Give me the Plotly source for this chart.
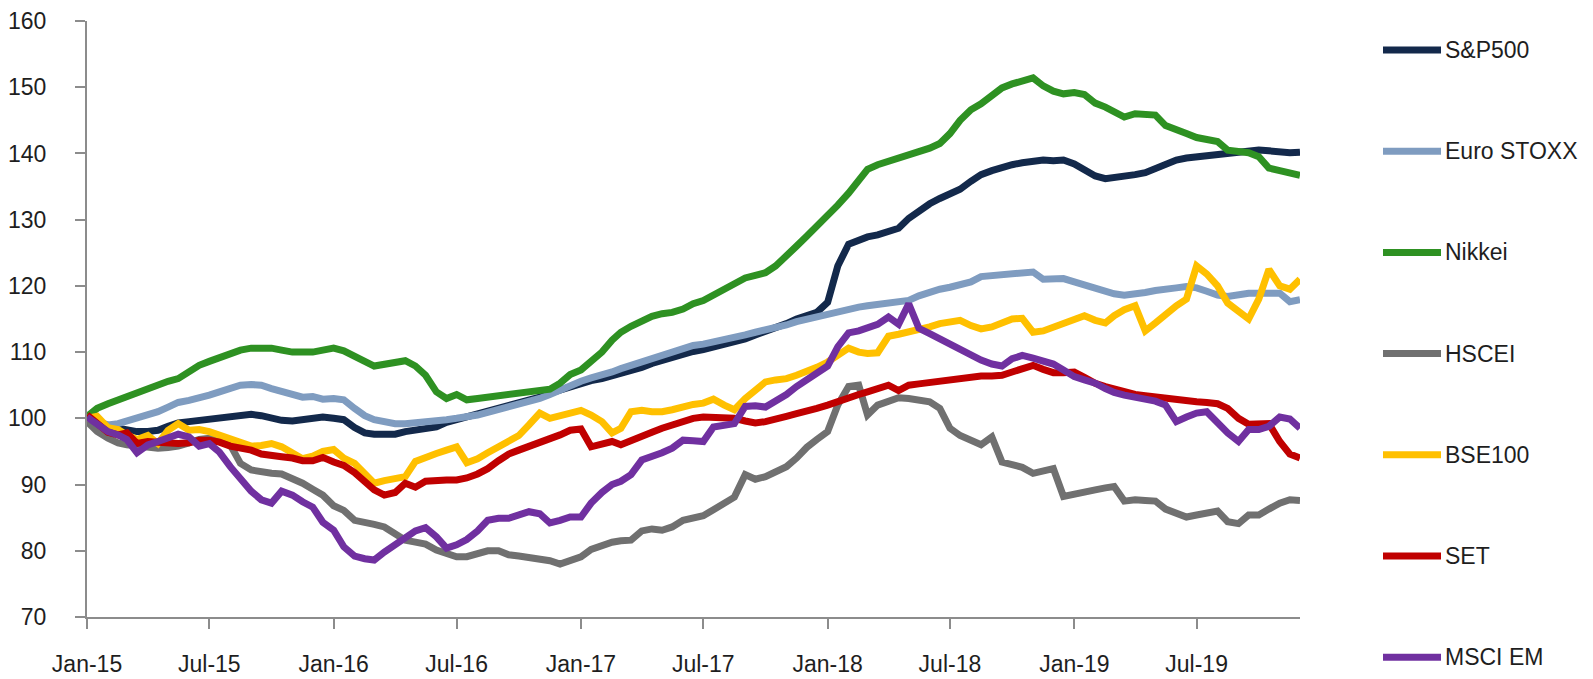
import plotly.graph_objects as go

# ---- semi-monthly observation dates (1st and 16th), Jan-2015 .. Dec-2019 ----
dates = []
for yr in range(2015, 2020):
    for mo in range(1, 13):
        dates.append(f"{yr}-{mo:02d}-01")
        if yr == 2019 and mo == 12:
            break
        dates.append(f"{yr}-{mo:02d}-16")

series_names = ["S&P500", "Euro STOXX", "Nikkei", "HSCEI", "BSE100", "SET", "MSCI EM"]
series_colors = ["#13294B", "#7F9CC0", "#2E9122", "#707070", "#FFC000", "#C00000", "#7030A0"]

sp500 = [
    100.0, 99.4, 98.9, 98.5, 98.2, 98.0, 98.0, 98.2, 98.8, 99.3, 99.5, 99.7,
    99.8, 100.0, 100.2, 100.4, 100.6, 100.4, 100.0, 99.7, 99.6, 99.8, 100.0, 100.2,
    100.0, 99.8, 98.6, 97.8, 97.6, 97.5, 97.6, 98.0, 98.3, 98.5, 98.7, 99.4,
    99.8, 100.2, 100.6, 101.0, 101.4, 101.8, 102.3, 102.8, 103.2, 103.8, 104.3, 104.9,
    105.3, 105.7, 106.0, 106.4, 106.9, 107.2, 107.7, 108.3, 108.8, 109.2, 109.6, 110.1,
    110.4, 110.8, 111.0, 111.4, 112.0, 112.6, 113.1, 113.7, 114.3, 115.0, 115.5, 116.0,
    117.5, 123.0, 126.3, 127.0, 127.4, 127.7, 128.2, 128.7, 130.2, 131.3, 132.4, 133.2,
    133.8, 134.6, 135.8, 136.8, 137.4, 137.9, 138.3, 138.6, 138.9, 139.0, 138.9, 139.0,
    138.4, 137.4, 136.6, 136.2, 136.3, 136.6, 136.8, 137.1, 137.8, 138.5, 139.0, 139.3,
    139.5, 139.7, 139.9, 140.0, 140.2, 140.4, 140.5, 140.4, 140.2, 140.1, 140.2,
]
euro_stoxx = [
    100.0, 99.5, 99.0, 99.2, 99.6, 100.0, 100.5, 101.0, 101.7, 102.4, 102.7, 103.0,
    103.5, 104.0, 104.5, 105.0, 105.1, 105.0, 104.5, 104.0, 103.5, 103.2, 103.3, 102.9,
    103.0, 102.8, 101.5, 100.4, 99.8, 99.4, 99.2, 99.2, 99.3, 99.4, 99.5, 99.8,
    100.0, 100.2, 100.5, 100.9, 101.3, 101.7, 102.2, 102.6, 103.0, 103.6, 104.3, 105.0,
    105.6, 106.1, 106.5, 107.0, 107.5, 108.0, 108.5, 109.1, 109.7, 110.1, 110.6, 111.0,
    111.2, 111.5, 111.8, 112.1, 112.6, 113.0, 113.3, 113.7, 114.1, 114.6, 115.0, 115.4,
    115.7, 116.1, 116.5, 116.8, 117.0, 117.2, 117.3, 117.6, 117.8, 118.5, 119.1, 119.5,
    119.8, 120.1, 120.6, 121.4, 121.6, 121.7, 121.8, 121.9, 122.1, 121.0, 121.0, 121.1,
    120.6, 120.1, 119.6, 119.1, 118.8, 118.6, 118.7, 119.0, 119.3, 119.6, 119.7, 119.9,
    119.7, 119.2, 118.6, 118.4, 118.7, 118.9, 118.9, 118.9, 118.9, 117.6, 117.9,
]
nikkei = [
    100.3, 101.5, 102.2, 102.8, 103.3, 104.0, 104.6, 105.2, 105.6, 106.0, 107.2, 108.0,
    108.6, 109.2, 109.8, 110.3, 110.6, 110.7, 110.6, 110.3, 110.0, 110.0, 110.0, 110.3,
    110.6, 110.2, 109.5, 108.6, 107.9, 108.1, 108.3, 108.7, 107.9, 106.5, 104.0, 103.0,
    103.6, 102.8, 103.0, 103.2, 103.3, 103.5, 103.6, 103.8, 104.0, 104.4, 105.3, 106.6,
    107.3, 108.5, 110.0, 111.8, 113.0, 113.9, 114.8, 115.4, 115.8, 116.0, 116.5, 117.3,
    117.8, 118.6, 119.5, 120.5, 121.2, 121.6, 122.0, 123.0, 124.4, 126.0, 127.5, 129.0,
    130.4, 132.2, 134.0, 136.0, 137.6, 138.3, 138.8, 139.2, 139.7, 140.2, 140.8, 141.5,
    143.0, 145.0, 146.6, 147.5, 148.8, 149.9, 150.5, 151.0, 151.4, 150.2, 149.4, 149.0,
    149.2, 148.9, 147.6, 147.0, 146.2, 145.5, 146.0, 145.9, 145.8, 144.2, 143.7, 143.0,
    142.4, 142.2, 141.8, 140.5, 140.3, 140.1, 139.5, 137.8, 137.4, 137.0, 136.7,
]
hscei = [
    99.5, 98.0, 97.0, 96.3, 96.0, 95.8, 95.6, 95.5, 95.6, 95.8, 96.3, 96.8,
    97.0, 96.8, 96.0, 93.2, 92.2, 91.9, 91.7, 91.6, 91.0, 90.2, 89.3, 88.4,
    86.8, 86.1, 84.6, 84.4, 84.0, 83.6, 82.6, 81.6, 81.3, 81.0, 80.1, 79.5,
    79.1, 79.1, 79.5, 80.0, 80.0, 79.4, 79.2, 79.0, 78.9, 78.5, 78.0, 78.5,
    79.1, 80.2, 80.8, 81.3, 81.5, 81.6, 83.0, 83.3, 83.1, 83.6, 84.6, 85.0,
    85.3, 86.2, 87.2, 88.1, 91.5, 90.8, 91.2, 91.8, 92.7, 94.0, 95.6, 96.8,
    98.0, 102.0, 104.8, 105.0, 100.5, 102.0, 102.6, 103.1, 103.0, 102.7, 102.5, 101.5,
    98.5, 97.4, 96.6, 96.0, 97.2, 93.4, 93.0, 92.6, 91.7, 92.0, 92.4, 88.2,
    88.6, 89.0, 89.2, 89.5, 89.7, 87.5, 87.7, 87.6, 87.5, 86.3, 85.8, 85.1,
    85.4, 85.7, 86.0, 84.4, 84.1, 85.4, 85.4, 86.3, 87.2, 87.7, 87.6,
]
bse100 = [
    100.0, 100.3, 98.6, 98.3, 97.5, 96.8, 97.4, 96.2, 98.2, 99.2, 98.2, 98.3,
    98.0, 97.5, 96.9, 96.5, 95.8, 95.9, 96.2, 95.7, 94.8, 93.9, 94.3, 95.0,
    95.3, 94.0, 93.2, 91.5, 90.2, 90.6, 91.0, 91.2, 93.5, 94.2, 94.7, 95.2,
    95.7, 93.3, 93.9, 94.8, 95.8, 96.7, 97.4, 99.0, 100.8, 100.0, 100.4, 100.8,
    101.2, 100.5, 99.5, 97.8, 98.5, 101.0, 101.2, 101.0, 101.0, 101.3, 101.8, 102.1,
    102.3, 102.9, 102.0, 101.3, 103.0, 104.3, 105.5, 105.8, 106.0, 106.5, 107.0, 107.7,
    108.5, 109.4, 110.6, 110.0, 109.8, 109.9, 112.4, 112.7, 113.0, 113.4, 113.8, 114.3,
    114.6, 114.8, 114.0, 113.5, 113.8, 114.5, 115.0, 115.1, 113.0, 113.2, 113.8, 114.5,
    115.0, 115.5, 114.8, 114.4, 115.5, 116.4, 117.0, 113.2, 114.4, 115.8, 117.0, 118.0,
    123.0, 121.8, 120.0, 117.4, 116.2, 115.0, 118.0, 122.5, 120.0, 119.5, 121.0,
]
set_index = [
    100.5, 99.2, 97.9, 97.5, 97.8, 96.2, 96.5, 96.4, 96.2, 96.2, 96.3, 96.7,
    96.7, 96.4, 95.8, 95.6, 95.2, 94.6, 94.3, 94.2, 94.0, 93.6, 93.6, 94.1,
    93.4, 92.9, 91.8, 90.5, 89.2, 88.4, 88.8, 90.2, 89.6, 90.5, 90.7, 90.7,
    90.7, 91.0, 91.6, 92.4, 93.6, 94.6, 95.2, 95.7, 96.3, 97.0, 97.5, 98.2,
    98.4, 95.7, 96.2, 96.5, 96.0, 96.7, 97.3, 97.9, 98.5, 99.0, 99.5, 100.0,
    100.2, 100.2, 100.2, 100.0, 99.6, 99.3, 99.5, 100.0, 100.3, 100.7, 101.0, 101.5,
    102.0, 102.6, 103.2, 103.6, 104.0, 104.5, 105.0, 104.2, 105.0, 105.2, 105.4, 105.6,
    105.9, 106.1, 106.3, 106.4, 106.4, 106.5, 107.0, 107.6, 108.0, 107.4, 106.9, 106.9,
    107.0, 106.2, 105.3, 104.8, 104.4, 104.0, 103.6, 103.4, 103.2, 103.0, 102.8, 102.5,
    102.5, 102.4, 102.2, 101.5, 100.0, 99.1, 99.1, 99.2, 96.5, 94.6, 94.0,
]
msci_em = [
    100.2, 99.2, 98.0, 97.5, 96.8, 94.8, 96.0, 96.5, 97.0, 97.6, 97.2, 95.8,
    96.2, 94.9, 92.7, 90.8, 89.0, 87.7, 87.2, 89.0, 88.4, 87.4, 86.6, 84.3,
    83.1, 80.6, 79.2, 78.8, 78.6, 79.8, 81.0, 82.2, 83.0, 83.5, 82.1, 80.4,
    80.9, 81.7, 83.0, 84.6, 84.9, 84.9, 85.5, 85.9, 85.6, 84.2, 84.6, 85.1,
    85.1, 87.2, 88.8, 90.0, 90.5, 91.5, 93.7, 94.2, 94.8, 95.5, 96.7, 96.6,
    96.5, 98.7, 98.9, 99.2, 101.8, 101.9, 101.7, 102.6, 103.6, 104.8, 105.8, 106.8,
    107.9, 110.8, 112.9, 113.2, 113.7, 114.2, 115.3, 114.2, 117.3, 113.6, 112.8, 112.0,
    111.3, 110.6, 109.8, 108.8, 108.2, 107.9, 109.0, 109.5, 109.1, 108.7, 108.2, 107.3,
    106.3, 105.8, 105.3, 104.5, 103.9, 103.5, 103.2, 102.9, 102.6, 102.0, 99.5, 100.2,
    100.8, 101.0, 99.2, 97.8, 96.5, 98.3, 98.3, 98.8, 100.2, 99.9, 98.5,
]

series_values = [sp500, euro_stoxx, nikkei, hscei, bse100, set_index, msci_em]

# ---- layout geometry (pixels) ----
W, H = 1593, 679
M_L, M_R, M_T, M_B = 87, 293, 21, 62
plot_w = W - M_L - M_R
plot_h = H - M_T - M_B
FONT = "Liberation Sans, Arial, Helvetica, sans-serif"
TXT = "#1E1E1E"
AXC = "#8C8C8C"

fig = go.Figure()
for name, col, vals in zip(series_names, series_colors, series_values):
    fig.add_trace(go.Scatter(
        x=dates, y=vals, name=name, mode="lines",
        line=dict(color=col, width=7),
        showlegend=False, hoverinfo="x+y+name",
    ))

# ---- manual legend to the right of the plot (long line samples) ----
LEG_TOP_PX, LEG_STEP_PX = 50, 101.2
LEG_X0_PX, LEG_X1_PX, LEG_TXT_PX = 1383, 1441, 1443

def px_x(px):
    return (px - M_L) / plot_w

def px_y(py):
    return (H - M_B - py) / plot_h

shapes, annotations = [], []
for i, (name, col) in enumerate(zip(series_names, series_colors)):
    yy = px_y(LEG_TOP_PX + i * LEG_STEP_PX)
    shapes.append(dict(type="line", xref="paper", yref="paper",
                       x0=px_x(LEG_X0_PX), x1=px_x(LEG_X1_PX), y0=yy, y1=yy,
                       line=dict(color=col, width=7)))
    annotations.append(dict(xref="paper", yref="paper", x=px_x(LEG_TXT_PX), y=yy,
                            text=name, showarrow=False, xanchor="left", yanchor="middle",
                            font=dict(family=FONT, size=23, color=TXT)))

fig.update_layout(
    width=W, height=H,
    margin=dict(l=M_L, r=M_R, t=M_T, b=M_B, pad=0),
    paper_bgcolor="white", plot_bgcolor="white",
    font=dict(family=FONT, size=23, color=TXT),
    shapes=shapes, annotations=annotations,
    showlegend=False,
)
fig.update_xaxes(
    type="date", range=["2015-01-01", "2019-12-01"],
    tick0="2015-01-01", dtick="M6", tickformat="%b-%y",
    showgrid=False, zeroline=False,
    showline=True, linecolor=AXC, linewidth=2,
    ticks="outside", ticklen=10, tickwidth=2, tickcolor=AXC,
    ticklabelstandoff=15, automargin=False,
    tickfont=dict(family=FONT, size=23, color=TXT),
)
fig.update_yaxes(
    range=[70, 160], tick0=70, dtick=10,
    showgrid=False, zeroline=False,
    showline=True, linecolor=AXC, linewidth=2,
    ticks="outside", ticklen=10, tickwidth=2, tickcolor=AXC,
    ticklabelstandoff=24, automargin=False,
    tickfont=dict(family=FONT, size=23, color=TXT),
)

fig.write_html(
    "out.html",
    config={"displayModeBar": False},
    post_script="document.body.style.margin='0';document.body.style.overflow='hidden';",
)
